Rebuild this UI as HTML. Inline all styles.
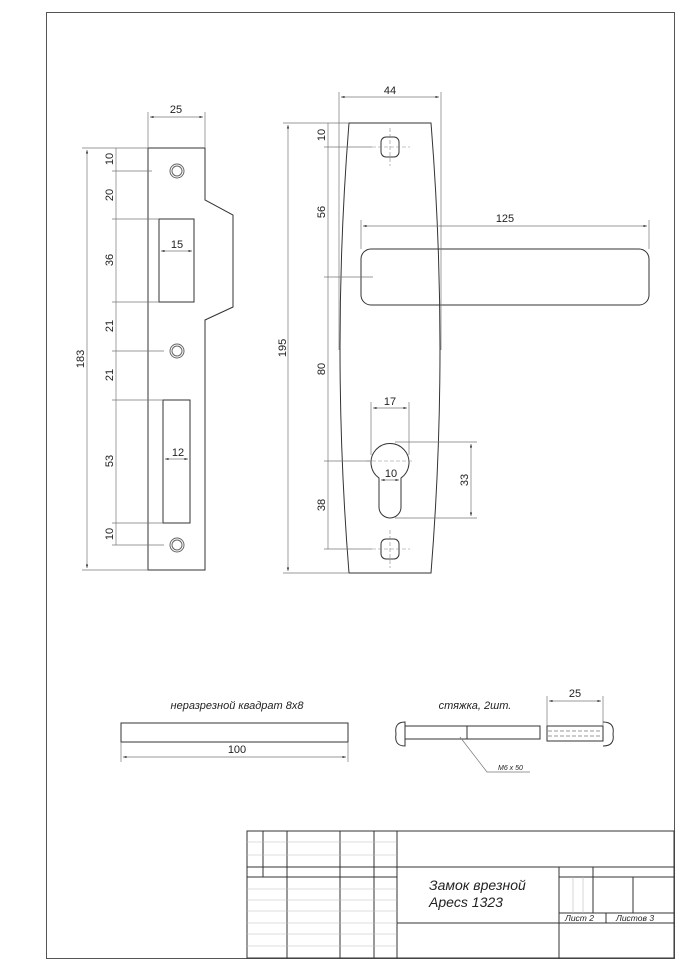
<!DOCTYPE html>
<html><head><meta charset="utf-8"><style>
html,body{margin:0;padding:0;background:#fff;}
svg{display:block;}
text{font-family:"Liberation Sans",sans-serif;fill:#222;}
.t{font-size:11px;}
.i{font-style:italic;}
</style></head><body>
<svg width="686" height="970" viewBox="0 0 686 970" xmlns="http://www.w3.org/2000/svg">
<defs>
<marker id="a" viewBox="0 0 10 10" refX="10" refY="5" markerWidth="5" markerHeight="5" orient="auto-start-reverse"><path d="M0,2 L10,5 L0,8z" fill="#222"/></marker>
</defs>
<g fill="none" stroke="#333" stroke-width="1">
<rect x="46.5" y="12.5" width="628" height="946" stroke="#555"/>

<path d="M148,148 H205 V200 L233,215 V307 L205,320 V570 H148 Z"/>
<rect x="159" y="219" width="35" height="83"/>
<rect x="163" y="400" width="27" height="123"/>
<g stroke="#666">
<circle cx="177" cy="171" r="7"/><circle cx="177" cy="171" r="5"/>
<circle cx="177" cy="351" r="7"/><circle cx="177" cy="351" r="5"/>
<circle cx="177" cy="545" r="7"/><circle cx="177" cy="545" r="5"/>
</g>
<g stroke="#777" stroke-width="0.7">
<line x1="148" y1="112" x2="148" y2="148"/><line x1="205" y1="112" x2="205" y2="148"/>
<line x1="150" y1="117" x2="203" y2="117" marker-start="url(#a)" marker-end="url(#a)"/>
<line x1="82" y1="148" x2="148" y2="148"/><line x1="82" y1="570" x2="148" y2="570"/>
<line x1="87" y1="150" x2="87" y2="568" marker-start="url(#a)" marker-end="url(#a)"/>
<line x1="112" y1="171" x2="152" y2="171"/>
<line x1="112" y1="219" x2="159" y2="219"/>
<line x1="112" y1="302" x2="159" y2="302"/>
<line x1="112" y1="351" x2="164" y2="351"/>
<line x1="112" y1="400" x2="163" y2="400"/>
<line x1="112" y1="523" x2="163" y2="523"/>
<line x1="112" y1="545" x2="164" y2="545"/>
<line x1="116" y1="148" x2="116" y2="545"/>
<line x1="161" y1="251" x2="192" y2="251" marker-start="url(#a)" marker-end="url(#a)"/>
<line x1="165" y1="459" x2="188" y2="459" marker-start="url(#a)" marker-end="url(#a)"/>
</g>

<path d="M349,123 H431 Q449,348 431,573 H349 Q331,348 349,123 Z"/>
<rect x="381" y="137" width="18" height="20" rx="5"/>
<rect x="381" y="539" width="18" height="20" rx="5"/>
<rect x="361" y="249" width="288" height="56" rx="10"/>
<path d="M379,478 A19,19 0 1 1 401,478 V507 A11,11 0 0 1 379,507 Z"/>
<g stroke="#888" stroke-width="0.6" stroke-dasharray="4,2">
<line x1="390" y1="128" x2="390" y2="166"/><line x1="372" y1="147" x2="410" y2="147"/>
<line x1="390" y1="530" x2="390" y2="568"/><line x1="372" y1="549" x2="410" y2="549"/>
<line x1="366" y1="461" x2="414" y2="461"/>
</g>
<g stroke="#777" stroke-width="0.7">
<line x1="339" y1="92" x2="339" y2="350"/><line x1="441" y1="92" x2="441" y2="350"/>
<line x1="341" y1="97" x2="439" y2="97" marker-start="url(#a)" marker-end="url(#a)"/>
<line x1="361" y1="220" x2="361" y2="249"/><line x1="649" y1="220" x2="649" y2="249"/>
<line x1="363" y1="226" x2="647" y2="226" marker-start="url(#a)" marker-end="url(#a)"/>
<line x1="283" y1="123" x2="349" y2="123"/><line x1="283" y1="573" x2="349" y2="573"/>
<line x1="288" y1="125" x2="288" y2="571" marker-start="url(#a)" marker-end="url(#a)"/>
<line x1="324" y1="147" x2="372" y2="147"/>
<line x1="324" y1="277" x2="373" y2="277"/>
<line x1="324" y1="461" x2="371" y2="461"/>
<line x1="324" y1="549" x2="372" y2="549"/>
<line x1="328" y1="123" x2="328" y2="549"/>
<line x1="371" y1="402" x2="371" y2="455"/><line x1="409" y1="402" x2="409" y2="455"/>
<line x1="373" y1="408" x2="407" y2="408" marker-start="url(#a)" marker-end="url(#a)"/>
<line x1="381" y1="480" x2="399" y2="480" marker-start="url(#a)" marker-end="url(#a)"/>
<line x1="395" y1="442" x2="477" y2="442"/><line x1="395" y1="518" x2="477" y2="518"/>
<line x1="471" y1="444" x2="471" y2="516" marker-start="url(#a)" marker-end="url(#a)"/>
</g>

<rect x="121" y="723" width="227" height="19"/>
<g stroke="#777" stroke-width="0.7">
<line x1="121" y1="742" x2="121" y2="762"/><line x1="348" y1="742" x2="348" y2="762"/>
<line x1="123" y1="757" x2="346" y2="757" marker-start="url(#a)" marker-end="url(#a)"/>
</g>
<path d="M405,722 Q394,722 396,734 Q394,746 405,746 Z"/>
<rect x="405" y="726" width="135" height="13"/>
<line x1="467" y1="726" x2="467" y2="739"/>
<rect x="547" y="726" width="56" height="15"/>
<path d="M603,722 Q615,722 613,734 Q615,746 603,746"/>
<g stroke="#777" stroke-width="0.7" stroke-dasharray="4,2">
<line x1="548" y1="731" x2="602" y2="731"/><line x1="548" y1="736" x2="602" y2="736"/>
</g>
<g stroke="#777" stroke-width="0.7">
<line x1="547" y1="696" x2="547" y2="726"/><line x1="603" y1="696" x2="603" y2="726"/>
<line x1="549" y1="701" x2="601" y2="701" marker-start="url(#a)" marker-end="url(#a)"/>
<polyline points="460,737 487,772 530,772"/>
</g>

<rect x="247" y="831" width="427" height="127"/>
<line x1="263" y1="831" x2="263" y2="877"/>
<line x1="287" y1="831" x2="287" y2="958"/>
<line x1="340" y1="831" x2="340" y2="958"/>
<line x1="374" y1="831" x2="374" y2="958"/>
<line x1="397" y1="831" x2="397" y2="958"/>
<line x1="247" y1="867" x2="674" y2="867"/>
<line x1="247" y1="877" x2="397" y2="877"/>
<line x1="559" y1="877" x2="674" y2="877"/>
<line x1="397" y1="923" x2="674" y2="923"/>
<line x1="559" y1="867" x2="559" y2="958"/>
<line x1="593" y1="867" x2="593" y2="913"/>
<line x1="633" y1="877" x2="633" y2="913"/>
<line x1="559" y1="913" x2="674" y2="913"/>
<line x1="606" y1="913" x2="606" y2="923"/>
<g stroke="#bbb" stroke-width="0.6">
<line x1="247" y1="842" x2="397" y2="842"/><line x1="247" y1="855" x2="397" y2="855"/>
<line x1="247" y1="889" x2="397" y2="889"/><line x1="247" y1="900" x2="397" y2="900"/>
<line x1="247" y1="911" x2="397" y2="911"/><line x1="247" y1="923" x2="397" y2="923"/>
<line x1="247" y1="934" x2="397" y2="934"/><line x1="247" y1="946" x2="397" y2="946"/>
<line x1="573" y1="877" x2="573" y2="913"/><line x1="583" y1="877" x2="583" y2="913"/>
</g>
</g>

<text class="t" x="176" y="113" text-anchor="middle">25</text>
<text class="t" transform="translate(84,359) rotate(-90)" text-anchor="middle">183</text>
<text class="t" transform="translate(113,159) rotate(-90)" text-anchor="middle">10</text>
<text class="t" transform="translate(113,195) rotate(-90)" text-anchor="middle">20</text>
<text class="t" transform="translate(113,260) rotate(-90)" text-anchor="middle">36</text>
<text class="t" transform="translate(113,326) rotate(-90)" text-anchor="middle">21</text>
<text class="t" transform="translate(113,375) rotate(-90)" text-anchor="middle">21</text>
<text class="t" transform="translate(113,461) rotate(-90)" text-anchor="middle">53</text>
<text class="t" transform="translate(113,534) rotate(-90)" text-anchor="middle">10</text>
<text class="t" x="177" y="248" text-anchor="middle">15</text>
<text class="t" x="178" y="456" text-anchor="middle">12</text>

<text class="t" x="390" y="94" text-anchor="middle">44</text>
<text class="t" x="505" y="222" text-anchor="middle">125</text>
<text class="t" transform="translate(286,348) rotate(-90)" text-anchor="middle">195</text>
<text class="t" transform="translate(325,135) rotate(-90)" text-anchor="middle">10</text>
<text class="t" transform="translate(325,212) rotate(-90)" text-anchor="middle">56</text>
<text class="t" transform="translate(325,369) rotate(-90)" text-anchor="middle">80</text>
<text class="t" transform="translate(325,505) rotate(-90)" text-anchor="middle">38</text>
<text class="t" x="390" y="405" text-anchor="middle">17</text>
<text class="t" x="391" y="477" text-anchor="middle">10</text>
<text class="t" transform="translate(468,480) rotate(-90)" text-anchor="middle">33</text>

<text class="t i" x="237" y="709" text-anchor="middle">неразрезной квадрат 8x8</text>
<text class="t" x="237" y="753" text-anchor="middle">100</text>
<text class="t i" x="475" y="709" text-anchor="middle">стяжка, 2шт.</text>
<text class="t" x="575" y="697" text-anchor="middle">25</text>
<text class="i" x="498" y="770" font-size="7">M6 x 50</text>

<text class="i" x="429" y="890" font-size="14">Замок врезной</text>
<text class="i" x="429" y="907" font-size="14">Apecs 1323</text>
<text class="i" x="565" y="921" font-size="8.5">Лист 2</text>
<text class="i" x="616" y="921" font-size="8.5">Листов 3</text>
</svg>
</body></html>
